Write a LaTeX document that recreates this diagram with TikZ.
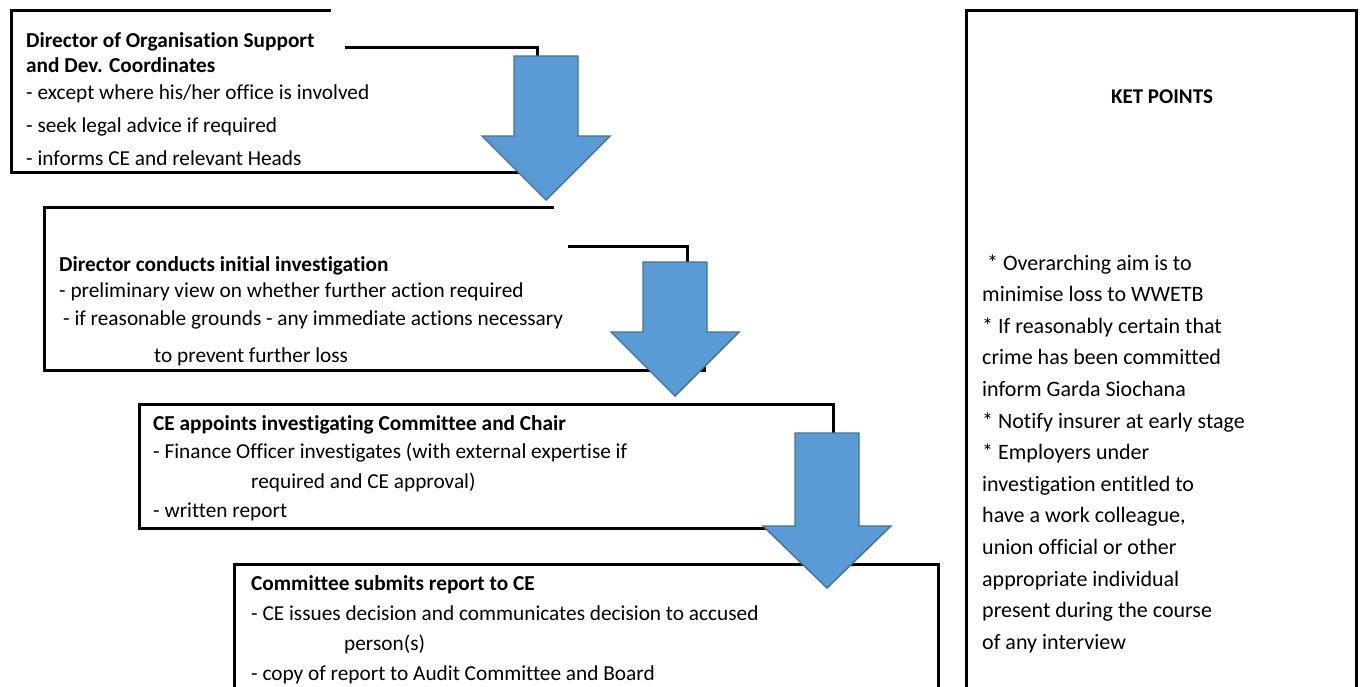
\documentclass[tikz,border=0pt]{standalone}
\usepackage{fontspec}
\setmainfont{Carlito}[Ligatures=NoCommon]
\usetikzlibrary{positioning}
\definecolor{arrowfill}{HTML}{5B9BD5}
\definecolor{arrowedge}{HTML}{41719C}
\newcommand{\blockdown}[4]{%
  \draw[bigarrow] (#1-32,#2)--(#1+32,#2)--(#1+32,#3)--(#1+64,#3)--(#1,#4)--(#1-64,#3)--(#1-32,#3)--cycle;}

\begin{document}
\begin{tikzpicture}[x=1pt,y=-1pt,
  every node/.style={font=\fontsize{21.3}{25}\selectfont,anchor=base west,inner sep=0pt},
  boxedge/.style={line width=3pt,line join=miter},
  steptitle/.style={font=\fontsize{21.3}{25}\selectfont\bfseries},
  keytext/.style={font=\fontsize{22}{26}\selectfont},
  bigarrow/.style={fill=arrowfill,draw=arrowedge,line width=1.4pt,line join=miter}]
 \clip (0,0) rectangle (1360,686);
 % box outlines
 \draw[boxedge] (331,10)--(11,10)--(11,172)--(530,172);
 \draw[boxedge] (345,47)--(537,47)--(537,60);
 \draw[boxedge] (554,207)--(44,207)--(44,370)--(704,370)--(704,364);
 \draw[boxedge] (568,246)--(687,246)--(687,266);
 \draw[boxedge] (833,440)--(833,404)--(139,404)--(139,528)--(790,528);
 \draw[boxedge] (234,700)--(234,564)--(938,564)--(938,700);
 \draw[boxedge] (966,700)--(966,10)--(1356,10)--(1356,700);
 % block arrows
 \blockdown{546}{56}{136}{200}
 \blockdown{675}{262}{332}{396}
 \blockdown{827}{433}{526}{588}
 % step 1
 \node[steptitle] (dirA) at (26,47) {Director of Organisation Support};
 \node[steptitle] (dirB) at (26,72) {and Dev. Coordinates};
 \node (dirC) at (26,99) {- except where his/her office is involved};
 \node (dirD) at (26,132) {- seek legal advice if required};
 \node (dirE) at (26,165) {- informs CE and relevant Heads};
 % step 2
 \node[steptitle] (invA) at (59,271) {Director conducts initial investigation};
 \node (invB) at (59,297) {- preliminary view on whether further action required};
 \node (invC) at (63,325) {- if reasonable grounds - any immediate actions necessary};
 \node (invD) at (154,362) {to prevent further loss};
 % step 3
 \node[steptitle] (comA) at (153,430) {CE appoints investigating Committee and Chair};
 \node (comB) at (153,458) {- Finance Officer investigates (with external expertise if};
 \node (comC) at (251,488) {required and CE approval)};
 \node (comD) at (153,517) {- written report};
 % step 4
 \node[steptitle] (repA) at (251,590) {Committee submits report to CE};
 \node (repB) at (251,620) {- CE issues decision and communicates decision to accused};
 \node (repC) at (344,650) {person(s)};
 \node (repD) at (251,680) {- copy of report to Audit Committee and Board};
 % key points
 \node[steptitle,font=\fontsize{21}{25}\selectfont\bfseries,anchor=base] (key) at (1162,103) {KET POINTS};
 \foreach \t [count=\i from 0] in {{\ * Overarching aim is to},{minimise loss to WWETB},
   {* If reasonably certain that},{crime has been committed},{inform Garda Siochana},
   {* Notify insurer at early stage},{* Employers under},{investigation entitled to},
   {have a work colleague,},{union official or other},{appropriate individual},
   {present during the course},{of any interview}}
   {\node[keytext] (kp\i) at (982,270+31.6*\i) {\t};}
\end{tikzpicture}
\end{document}
